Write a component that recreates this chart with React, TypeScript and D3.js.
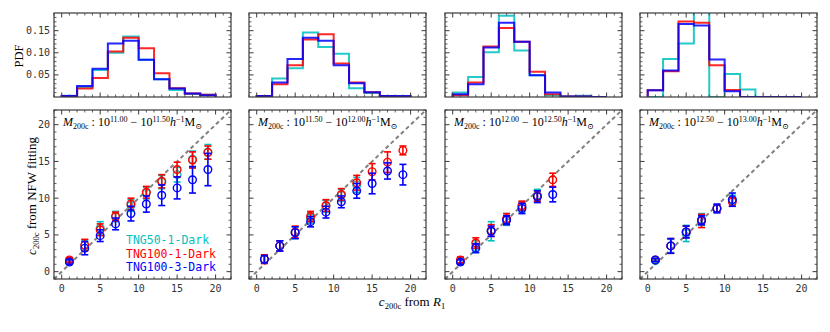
import * as d3 from 'd3';

const BIN_EDGES = [0, 2, 4, 6, 8, 10, 12, 14, 16, 18, 20];
const MASS_LO = ['11.00', '11.50', '12.00', '12.50'];
const MASS_HI = ['11.50', '12.00', '12.50', '13.00'];
const SIMS = ['TNG50-1-Dark', 'TNG100-1-Dark', 'TNG100-3-Dark'];
const COLORS = ['#00bfbf', '#ff0000', '#0000ff'];

// PDF of c200c from R1, one row per mass bin
const PDF_TNG50 = [
  [0.003, 0.022, 0.061, 0.100, 0.137, 0.084, 0.040, 0.016, 0.007, 0.005],
  [0.002, 0.042, 0.065, 0.146, 0.113, 0.098, 0.020, 0.009, 0.002, 0.001],
  [0.010, 0.045, 0.101, 0.184, 0.105, 0.049, 0.004, 0.001, 0.003, 0],
  [0, 0.086, 0.121, 0.25, 0, 0.052, 0.017, 0, 0, 0],
];
const PDF_TNG100 = [
  [0.002, 0.019, 0.043, 0.103, 0.134, 0.110, 0.054, 0.020, 0.008, 0.005],
  [0.002, 0.029, 0.072, 0.130, 0.142, 0.076, 0.033, 0.011, 0.002, 0.001],
  [0.004, 0.033, 0.114, 0.156, 0.125, 0.057, 0.006, 0.001, 0.001, 0],
  [0.015, 0.058, 0.171, 0.168, 0.072, 0.016, 0, 0, 0, 0],
];
const PDF_TNG100_3 = [
  [0.002, 0.025, 0.064, 0.121, 0.127, 0.084, 0.040, 0.019, 0.008, 0.004],
  [0.002, 0.033, 0.086, 0.134, 0.127, 0.072, 0.031, 0.011, 0.002, 0.002],
  [0.006, 0.029, 0.112, 0.168, 0.125, 0.049, 0.010, 0.001, 0.001, 0],
  [0.015, 0.060, 0.165, 0.162, 0.085, 0.013, 0, 0, 0, 0],
];

// c200c from R1 bin centres
const X_POINTS = [1, 3, 5, 7, 9, 11, 13, 15, 17, 19];

// c200c from NFW fitting (median) and error per bin
const C_TNG50 = [
  [1.4, 3.6, 5.9, 7.5, 9.0, 10.7, 12.2, 13.2, 15.3, 16.3],
  [1.7, 3.5, 5.3, 7.3, 8.9, 10.4, 11.8],
  [1.4, 3.4, 5.5, 7.1, 8.8, 10.4],
  [1.5, 3.5, 5.2, 7.1, 8.6, 9.8],
];
const E_TNG50 = [
  [0.3, 0.7, 0.9, 0.7, 0.8, 0.8, 0.9, 1.0, 1.1, 1.0],
  [0.5, 0.7, 0.8, 0.7, 0.8, 0.8, 1.0],
  [0.3, 0.8, 1.3, 0.8, 0.7, 0.8],
  [0.2, 0.9, 1.1, 0.8, 0.5, 0.6],
];
const C_TNG100 = [
  [1.6, 3.6, 5.7, 7.5, 9.2, 10.8, 12.3, 13.9, 15.2, 16.2],
  [1.7, 3.5, 5.4, 7.5, 9.0, 10.5, 12.1, 13.6, 14.9, 16.5],
  [1.6, 3.9, 5.6, 7.2, 9.0, 10.3, 12.5],
  [1.6, 3.5, 5.4, 6.9, 8.6, 9.5],
];
const E_TNG100 = [
  [0.3, 0.8, 0.8, 0.6, 0.8, 0.8, 0.9, 1.0, 1.1, 0.9],
  [0.6, 0.7, 0.8, 0.7, 0.8, 0.8, 1.0, 1.1, 1.4, 0.6],
  [0.4, 0.7, 0.8, 0.7, 0.6, 0.7, 0.9],
  [0.2, 1.0, 0.8, 0.9, 0.5, 0.6],
];
const C_TNG100_3 = [
  [1.3, 3.2, 4.9, 6.5, 7.9, 9.2, 10.4, 11.4, 12.5, 13.9],
  [1.7, 3.5, 5.3, 6.8, 8.1, 9.5, 11.0, 12.0, 13.7, 13.2],
  [1.3, 3.2, 5.5, 7.0, 8.6, 10.2, 10.5],
  [1.6, 3.5, 5.4, 7.0, 8.6, 9.8],
];
const E_TNG100_3 = [
  [0.3, 0.9, 0.8, 0.8, 1.0, 1.1, 1.4, 1.5, 1.8, 2.2],
  [0.5, 0.7, 0.8, 0.7, 0.8, 0.8, 1.0, 1.4, 1.1, 1.4],
  [0.3, 0.6, 0.7, 0.6, 0.7, 0.8, 1.0],
  [0.2, 1.0, 0.8, 0.6, 0.6, 0.9],
];

const PDFS = [PDF_TNG50, PDF_TNG100, PDF_TNG100_3];
const CS = [C_TNG50, C_TNG100, C_TNG100_3];
const ES = [E_TNG50, E_TNG100, E_TNG100_3];

const W = 830;
const H = 332;
const LEFTS = [54, 249, 445, 640];
const PW = 177;
const TOP = [13, 97];
const BOT = [110, 279];
const FRAME = '#3a3a3a';
const MONO = 'DejaVu Sans Mono, monospace';
const SERIF = 'Liberation Serif, DejaVu Serif, serif';

function Ticks({ x, y, xMajor, xMinor, yMajor, yMinor }) {
  const [x0, x1] = x.range();
  const [y0, y1] = y.range(); // y0 bottom, y1 top
  const out = [];
  const tick = (key, a, b, c, d, w) => out.push(<line key={key} x1={a} y1={b} x2={c} y2={d} stroke={FRAME} strokeWidth={w} />);
  xMajor.forEach((v) => {
    tick('xb' + v, x(v), y0, x(v), y0 - 4.5, 1);
    tick('xt' + v, x(v), y1, x(v), y1 + 4.5, 1);
  });
  xMinor.forEach((v) => {
    tick('xbm' + v, x(v), y0, x(v), y0 - 2.5, 0.8);
    tick('xtm' + v, x(v), y1, x(v), y1 + 2.5, 0.8);
  });
  yMajor.forEach((v) => {
    tick('yl' + v, x0, y(v), x0 + 4.5, y(v), 1);
    tick('yr' + v, x1, y(v), x1 - 4.5, y(v), 1);
  });
  yMinor.forEach((v) => {
    tick('ylm' + v, x0, y(v), x0 + 2.5, y(v), 0.8);
    tick('yrm' + v, x1, y(v), x1 - 2.5, y(v), 0.8);
  });
  return <g>{out}</g>;
}

export default function App() {
  const xMajor = [0, 5, 10, 15, 20];
  const xMinor = d3.range(-1, 23).filter((v) => v % 5 !== 0);
  const pdfMajor = [0.05, 0.1, 0.15];
  const pdfMinor = d3.range(1, 19).map((v) => v / 100).filter((v) => Math.round(v * 100) % 5 !== 0);
  const cMajor = [0, 5, 10, 15, 20];
  const cMinor = d3.range(-1, 23).filter((v) => v % 5 !== 0);

  return (
    <svg width={W} height={H} style={{ position: 'absolute', left: 0, top: 0, background: '#fff' }}>
      <defs>
        {LEFTS.map((l, i) => (
          <g key={i}>
            <clipPath id={'ct' + i}><rect x={l} y={TOP[0]} width={PW} height={TOP[1] - TOP[0]} /></clipPath>
            <clipPath id={'cb' + i}><rect x={l} y={BOT[0]} width={PW} height={BOT[1] - BOT[0]} /></clipPath>
          </g>
        ))}
      </defs>
      {LEFTS.map((left, i) => {
        const x = d3.scaleLinear().domain([-1, 22]).range([left, left + PW]);
        const yT = d3.scaleLinear().domain([0, 0.19]).range([TOP[1], TOP[0]]);
        const yB = d3.scaleLinear().domain([-1, 22]).range([BOT[1], BOT[0]]);
        const line = d3.line().x((d) => x(d[0])).y((d) => yT(d[1]));
        return (
          <g key={i}>
            {/* histograms */}
            <g clipPath={`url(#ct${i})`}>
              {PDFS.map((pdf, s) => {
                const vals = pdf[i];
                const pts = [[BIN_EDGES[0], 0]];
                vals.forEach((v, k) => {
                  pts.push([BIN_EDGES[k], v]);
                  pts.push([BIN_EDGES[k + 1], v]);
                });
                pts.push([BIN_EDGES[BIN_EDGES.length - 1], 0]);
                return <path key={s} d={line(pts)} fill="none" stroke={COLORS[s]} strokeWidth={2} strokeOpacity={0.85} />;
              })}
            </g>
            <rect x={left} y={TOP[0]} width={PW} height={TOP[1] - TOP[0]} fill="none" stroke={FRAME} strokeWidth={1.2} />
            <Ticks x={x} y={yT} xMajor={xMajor} xMinor={xMinor} yMajor={pdfMajor} yMinor={pdfMinor} />
            {i === 0 && pdfMajor.map((v) => (
              <text key={v} x={left - 4} y={yT(v) + 3.5} textAnchor="end" fontFamily={MONO} fontSize={10} fill="#333">{v.toFixed(2)}</text>
            ))}

            {/* scatter panel */}
            <g clipPath={`url(#cb${i})`}>
              <line x1={x(-1)} y1={yB(-1)} x2={x(22)} y2={yB(22)} stroke="#808080" strokeWidth={2} strokeDasharray="4,3" />
            </g>
            {CS.map((cs, s) => (
              <g key={s} stroke={COLORS[s]} fill="none">
                {cs[i].map((c, k) => {
                  const e = ES[s][i][k];
                  const cx = x(X_POINTS[k]);
                  return (
                    <g key={k}>
                      <line x1={cx} x2={cx} y1={yB(c - e)} y2={yB(c + e)} strokeWidth={1.6} />
                      <line x1={cx - 3.5} x2={cx + 3.5} y1={yB(c - e)} y2={yB(c - e)} strokeWidth={1.6} />
                      <line x1={cx - 3.5} x2={cx + 3.5} y1={yB(c + e)} y2={yB(c + e)} strokeWidth={1.6} />
                      <circle cx={cx} cy={yB(c)} r={3.8} strokeWidth={1.4} />
                    </g>
                  );
                })}
              </g>
            ))}
            <rect x={left} y={BOT[0]} width={PW} height={BOT[1] - BOT[0]} fill="none" stroke={FRAME} strokeWidth={1.2} />
            <Ticks x={x} y={yB} xMajor={xMajor} xMinor={xMinor} yMajor={cMajor} yMinor={cMinor} />
            {xMajor.map((v) => (
              <text key={v} x={x(v)} y={BOT[1] + 13} textAnchor="middle" fontFamily={MONO} fontSize={10} fill="#333">{v}</text>
            ))}
            {i === 0 && cMajor.map((v) => (
              <text key={v} x={left - 4} y={yB(v) + 3.5} textAnchor="end" fontFamily={MONO} fontSize={10} fill="#333">{v}</text>
            ))}
            <text x={left + 9} y={BOT[0] + 16} fontFamily={SERIF} fontSize={12} fill="#000">
              <tspan fontStyle="italic">M</tspan>
              <tspan fontSize={8} dy={2.5}>200c</tspan>
              <tspan dy={-2.5}> : 10</tspan>
              <tspan fontSize={8} dy={-4.5}>{MASS_LO[i]}</tspan>
              <tspan dy={4.5}> − 10</tspan>
              <tspan fontSize={8} dy={-4.5}>{MASS_HI[i]}</tspan>
              <tspan dy={4.5} fontStyle="italic">h</tspan>
              <tspan fontSize={8} dy={-4.5}>−1</tspan>
              <tspan dy={4.5}>M</tspan>
              <tspan fontSize={8} dy={2.5}>⊙</tspan>
            </text>
          </g>
        );
      })}

      {/* legend */}
      {SIMS.map((s, k) => (
        <text key={s} x={126} y={244 + k * 13.6} fontFamily={MONO} fontSize={11.5} fill={COLORS[k]}>{s}</text>
      ))}

      {/* axis labels */}
      <text transform="translate(23,56) rotate(-90)" textAnchor="middle" fontFamily={SERIF} fontSize={12.5} fill="#000">PDF</text>
      <text transform="translate(36,196) rotate(-90)" textAnchor="middle" fontFamily={SERIF} fontSize={13} fill="#000">
        <tspan fontStyle="italic">c</tspan>
        <tspan fontSize={8.5} dy={3}>200c</tspan>
        <tspan dy={-3}> from NFW fitting</tspan>
      </text>
      <text x={412} y={306} textAnchor="middle" fontFamily={SERIF} fontSize={13} fill="#000">
        <tspan fontStyle="italic">c</tspan>
        <tspan fontSize={8.5} dy={3}>200c</tspan>
        <tspan dy={-3}> from </tspan>
        <tspan fontStyle="italic">R</tspan>
        <tspan fontSize={8.5} dy={3}>1</tspan>
      </text>
    </svg>
  );
}
